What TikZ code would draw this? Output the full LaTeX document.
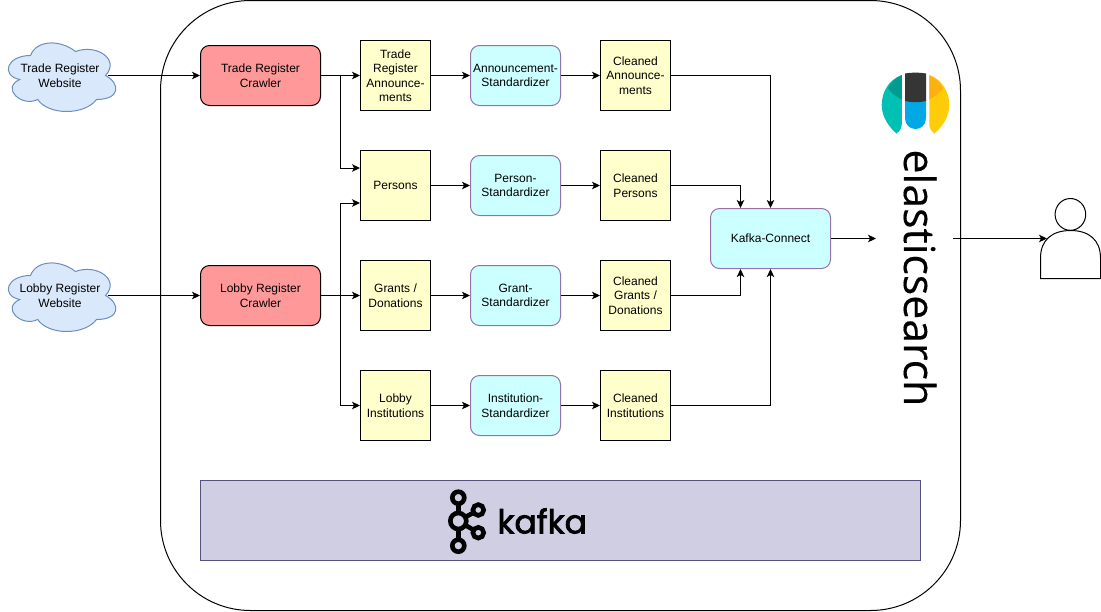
\documentclass[tikz,border=0pt]{standalone}
\usepackage{fontspec}
\setmainfont{Liberation Sans}
\newfontfamily\kafkafont[FakeBold=2.2]{Poppins}
\newfontfamily\elasticfont[FakeBold=0.3]{Open Sans}
\usetikzlibrary{arrows.meta,calc}
\definecolor{cloudfill}{HTML}{DAE8FC}
\definecolor{cloudline}{HTML}{6C8EBF}
\definecolor{crawlfill}{HTML}{FF9999}
\definecolor{topicfill}{HTML}{FFFFCC}
\definecolor{stdfill}{HTML}{CCFFFF}
\definecolor{stdline}{HTML}{9673A6}
\definecolor{kafkafill}{HTML}{D0CEE2}
\definecolor{kafkaline}{HTML}{56517E}
\definecolor{estealA}{HTML}{00BFB3}
\definecolor{estealB}{HTML}{019B8F}
\definecolor{edark}{HTML}{353535}
\definecolor{eblue}{HTML}{00A9E5}
\definecolor{eyellow}{HTML}{FFCC0A}
\definecolor{eorange}{HTML}{FDB00F}
\tikzset{
  base/.style={inner sep=0pt,align=center,font=\fontsize{12}{14.5}\selectfont,text=black,line width=1pt},
  crawler/.style={base,draw=black,fill=crawlfill,rounded corners=9pt,minimum width=120pt,minimum height=60pt},
  topic/.style={base,draw=black,fill=topicfill,minimum width=70pt,minimum height=70pt},
  standard/.style={base,draw=stdline,fill=stdfill,rounded corners=9pt,minimum width=90pt,minimum height=60pt},
  connect/.style={base,draw=stdline,fill=stdfill,rounded corners=9pt,minimum width=120pt,minimum height=60pt},
  cloudtext/.style={base,minimum width=94pt,minimum height=30pt},
  cloudshape/.style={draw=cloudline,fill=cloudfill,line width=1pt},
  link/.style={draw=black,line width=1pt,-{Stealth[length=8pt,width=7.5pt,inset=2pt]}}
}
\newcommand{\cloudpath}[2]{%
  \begin{scope}[shift={(#1,#2)}]
  \path[cloudshape] (30,20) .. controls (6,20) and (0,40) .. (19.2,44)
    .. controls (0,52.8) and (21.6,72) .. (37.2,64)
    .. controls (48,80) and (84,80) .. (96,64)
    .. controls (120,64) and (120,48) .. (105,40)
    .. controls (120,24) and (96,8) .. (75,16)
    .. controls (60,4) and (36,4) .. (30,20) -- cycle;
  \end{scope}}
\begin{document}
\begin{tikzpicture}[x=1pt,y=-1pt,line width=1pt]
\useasboundingbox (0,0) rectangle (1101,611);
\fill[white] (0,0) rectangle (1101,611);
% container
\draw[black,rounded corners=90pt] (160.5,0.5) rectangle (960.5,610.5);
% clouds
\cloudpath{0.5}{35.5}
\cloudpath{0.5}{255.5}
\node[cloudtext] (trw) at (60,75.5) {Trade Register\\Website};
\node[cloudtext] (lrw) at (60,295.5) {Lobby Register\\Website};
% crawlers
\node[crawler] (tc) at (260.5,75.5) {Trade Register\\Crawler};
\node[crawler] (lc) at (260.5,295.5) {Lobby Register\\Crawler};
% topics
\node[topic] (ann) at (395.5,75.5) {Trade\\Register\\Announce-\\ments};
\node[topic] (per) at (395.5,185.5) {Persons};
\node[topic] (gra) at (395.5,295.5) {Grants /\\Donations};
\node[topic] (ins) at (395.5,405.5) {Lobby\\Institutions};
% standardizers
\node[standard] (sann) at (515.5,75.5) {Announcement-\\Standardizer};
\node[standard] (sper) at (515.5,185.5) {Person-\\Standardizer};
\node[standard] (sgra) at (515.5,295.5) {Grant-\\Standardizer};
\node[standard] (sins) at (515.5,405.5) {Institution-\\Standardizer};
% cleaned
\node[topic] (cann) at (635.5,75.5) {Cleaned\\Announce-\\ments};
\node[topic] (cper) at (635.5,185.5) {Cleaned\\Persons};
\node[topic] (cgra) at (635.5,295.5) {Cleaned\\Grants /\\Donations};
\node[topic] (cins) at (635.5,405.5) {Cleaned\\Institutions};
% connect
\node[connect] (kc) at (770.5,238.5) {Kafka-Connect};
% kafka band
\node[base,draw=kafkaline,fill=kafkafill,minimum width=720pt,minimum height=80pt] (kb) at (560.5,520.5) {};
\begin{scope}[line width=4.6pt,black]
  \draw (458.3,497.7) -- (458.3,545.7);
  \draw (458.3,521) -- (478.3,510);
  \draw (458.3,521) -- (478.3,532.7);
  \draw[fill=kafkafill] (458.3,497.7) circle (6);
  \draw[fill=kafkafill] (458.3,545.7) circle (6);
  \draw[fill=kafkafill] (458.3,521) circle (8);
  \draw[fill=kafkafill] (478.3,510) circle (5.4);
  \draw[fill=kafkafill] (478.3,532.7) circle (5.4);
\end{scope}
\node[inner sep=0pt,anchor=base west,font=\kafkafont\fontsize{33}{33}\selectfont] (kt) at (497,533.5) {kafka};
% elastic logo
\fill[estealA] (901.8,75) .. controls (888,80) and (881.7,93) .. (881.7,105)
  .. controls (881.7,117) and (889,127) .. (896.5,133.5)
  .. controls (900,131) and (901.8,128) .. (901.8,124) -- cycle;
\fill[estealB] (901.8,75) .. controls (896,78) and (891,82) .. (888,88)
  .. controls (891,93) and (897,97) .. (901.8,99.5) -- cycle;
\fill[eyellow] (929.3,75) .. controls (943,80) and (949.3,93) .. (949.3,105)
  .. controls (949.3,117) and (942,127) .. (934.5,133.5)
  .. controls (931,131) and (929.3,128) .. (929.3,124) -- cycle;
\fill[eorange] (929.3,75) .. controls (935,78) and (940,82) .. (943,88)
  .. controls (940,93) and (934,97) .. (929.3,99.5) -- cycle;
\fill[eblue] (905,100) -- (926,100) -- (926,118)
  .. controls (926,125) and (921,129) .. (915.5,129)
  .. controls (910,129) and (905,125) .. (905,118) -- cycle;
\fill[edark] (905,73.5) .. controls (912,72.3) and (919,72.3) .. (926,73.5) -- (926,101)
  .. controls (919,102.6) and (912,102.6) .. (905,101) -- cycle;
\node[inner sep=0pt,rotate=-90,anchor=base west,font=\elasticfont\fontsize{42.8}{42.8}\selectfont] (et) at (904,149) {elasticsearch};
% person
\draw[black,fill=white] (1070.4,214.4) ellipse (15.3 and 15.9);
\draw[black,fill=white] (1040.5,278.5) -- (1040.5,258)
  .. controls (1040.5,240) and (1052,230.5) .. (1070.5,230.5)
  .. controls (1089,230.5) and (1100.5,240) .. (1100.5,258)
  -- (1100.5,278.5) -- cycle;
% free ends and junctions
\coordinate (kcend) at (876,238.5);
\coordinate (esout) at (953,238.5);
\coordinate (user) at (1047,238.5);
\coordinate (busT) at (340.5,75.5);
\coordinate (busL) at (340.5,295.5);
% connectors
\draw[link] (trw.east) -- (tc.west);
\draw[link] (lrw.east) -- (lc.west);
\draw[link] (tc.east) -- (ann.west);
\draw[link] (busT) |- ([yshift=17.5pt]per.west);
\draw[link] (lc.east) -- (gra.west);
\draw[link] (busL) |- ([yshift=-17.5pt]per.west);
\draw[link] (busL) |- (ins.west);
\draw[link] (ann.east) -- (sann.west);
\draw[link] (per.east) -- (sper.west);
\draw[link] (gra.east) -- (sgra.west);
\draw[link] (ins.east) -- (sins.west);
\draw[link] (sann.east) -- (cann.west);
\draw[link] (sper.east) -- (cper.west);
\draw[link] (sgra.east) -- (cgra.west);
\draw[link] (sins.east) -- (cins.west);
\draw[link] (cann.east) -| (kc.north);
\draw[link] (cins.east) -| (kc.south);
\draw[link] (cper.east) -| ([xshift=-30pt]kc.north);
\draw[link] (cgra.east) -| ([xshift=-30pt]kc.south);
\draw[link] (kc.east) -- (kcend);
\draw[link] (esout) -- (user);
\end{tikzpicture}
\end{document}
